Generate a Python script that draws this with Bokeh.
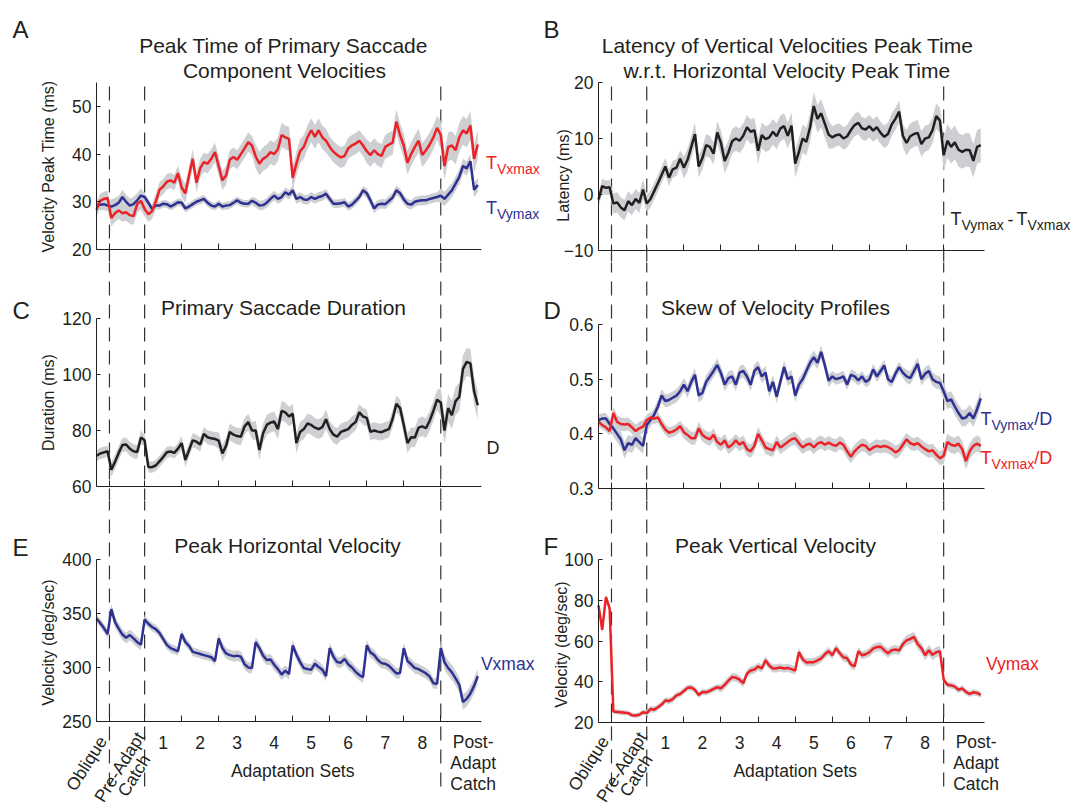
import numpy as np
from bokeh.plotting import figure
from bokeh.models import Range1d, LinearAxis, FixedTicker, Label
from bokeh.layouts import gridplot
from bokeh.embed import file_html
from bokeh.resources import INLINE

# ---------------- data ----------------
block_names = ["Oblique", "Pre-Adapt\nCatch", "1", "2", "3", "4", "5", "6", "7", "8", "Post-\nAdapt\nCatch"]
block_lengths = [35, 95, 100, 100, 100, 100, 100, 100, 100, 100, 110]
dashed_boundaries = [0, 1, 9]          # boundaries (after block i) drawn as dashed lines
trial_step = 10
n_samples = 104

A_red = [28.3, 30.2, 30.6, 30.8, 26.6, 27.6, 28.2, 27.6, 27.8, 27.2,
         27.0, 29.5, 30.2, 28.5, 27.4, 28.0, 30.0, 32.5, 33.2, 34.2,
         34.5, 34.0, 36.0, 33.0, 31.8, 35.5, 39.0, 34.0, 37.0, 38.3,
         38.0, 39.0, 40.4, 37.5, 34.5, 35.5, 38.8, 39.4, 38.8, 40.0,
         41.2, 42.5, 41.8, 39.5, 38.0, 39.0, 39.5, 40.4, 40.0, 41.0,
         44.0, 43.5, 43.2, 35.0, 38.0, 40.6, 41.5, 43.5, 45.0, 43.6,
         45.0, 43.5, 42.8, 41.5, 40.5, 39.8, 39.3, 39.6, 41.2, 41.8,
         42.2, 42.8, 41.8, 40.6, 39.8, 40.8, 40.0, 39.6, 41.5, 42.0,
         42.4, 46.8, 44.0, 41.8, 38.2, 40.0, 41.5, 42.8, 39.8, 40.8,
         42.0, 43.5, 45.5, 44.0, 37.5, 41.5, 41.8, 40.8, 43.5, 45.0,
         44.3, 46.0, 39.0, 42.0]
A_blue = [29.4, 29.4, 29.5, 29.2, 29.0, 29.3, 29.8, 31.0, 30.0, 29.2,
          29.5, 30.3, 31.3, 31.0, 29.8, 28.5, 29.2, 29.2, 29.6, 29.5,
          29.0, 29.4, 29.9, 29.8, 28.6, 29.0, 29.5, 30.0, 30.3, 30.6,
          29.8, 29.2, 29.0, 29.6, 29.0, 29.2, 29.3, 29.8, 30.3, 29.8,
          29.6, 29.6, 30.2, 29.8, 29.2, 29.3, 29.8, 30.6, 31.3, 30.6,
          31.0, 32.0, 31.5, 32.4, 30.6, 31.0, 30.5, 30.4, 31.0, 30.6,
          31.0, 31.2, 31.7, 30.6, 29.6, 29.6, 29.7, 29.9, 29.0, 29.4,
          30.2, 31.0, 32.4, 31.8, 30.3, 28.6, 29.4, 29.6, 29.5, 30.2,
          30.9, 32.4, 31.8, 30.5, 29.6, 29.4, 30.0, 30.2, 30.3, 30.3,
          30.6, 30.8, 31.0, 31.3, 30.6, 31.5, 32.4, 33.8, 35.2, 37.5,
          37.0, 38.5, 32.5, 33.5]
B_lat = [-0.9, 1.5, 1.2, 1.3, -1.6, -1.4, -2.3, -2.8, -1.2, -1.9,
         -0.8, -1.5, 0.9, -1.6, -0.8, 0.6, 2.0, 3.5, 5.0, 3.0,
         4.5, 4.8, 6.4, 4.8, 6.2, 8.5, 10.8, 5.0, 6.5, 8.8,
         8.5, 7.3, 11.1, 9.2, 6.0, 7.5, 9.5, 10.0, 9.6, 10.5,
         12.0, 11.2, 11.5, 7.8, 10.6, 9.9, 10.2, 11.2, 10.4, 11.8,
         12.2, 10.5, 12.3, 5.5, 7.6, 10.0, 9.4, 12.0, 15.8, 13.5,
         14.5, 12.6, 10.7, 10.2, 10.6, 10.7, 10.0, 10.4, 11.5, 12.4,
         12.8, 11.8, 11.6, 12.2, 11.4, 12.0, 11.0, 10.3, 10.8, 12.5,
         13.5, 14.8, 10.5, 9.2, 10.4, 10.8, 11.0, 9.0, 10.0, 10.2,
         11.5, 14.0, 13.2, 7.0, 9.6, 8.5, 9.3, 8.0, 7.6, 8.0,
         7.9, 6.0, 8.5, 8.8]
C_dur = [71.0, 71.8, 72.2, 72.6, 66.0, 68.8, 72.0, 74.8, 75.0, 73.5,
         72.6, 72.3, 77.5, 76.5, 67.0, 66.9, 67.5, 69.0, 70.5, 72.2,
         72.5, 72.0, 73.5, 75.5, 69.5, 73.0, 76.5, 76.0, 75.0, 78.8,
         77.6, 77.2, 77.0, 76.4, 71.8, 74.5, 79.5, 78.5, 78.0, 77.8,
         81.5, 83.0, 80.0, 80.0, 73.0, 79.0, 82.0, 82.8, 83.2, 80.5,
         87.0, 86.5, 85.0, 86.0, 75.5, 79.5, 80.5, 82.5, 82.0, 81.0,
         80.5, 81.2, 84.0, 80.5, 78.5, 77.8, 79.5, 80.0, 80.5, 82.0,
         83.0, 86.5, 85.0, 84.5, 79.5, 80.0, 79.6, 79.4, 80.0, 80.5,
         84.2, 89.5, 88.0, 82.0, 75.5, 77.6, 77.5, 81.0, 81.5, 80.8,
         83.5, 87.0, 91.0, 90.0, 80.0, 88.0, 85.5, 90.5, 92.0, 102.0,
         104.5, 104.0, 94.0, 89.0]
D_blue = [0.425, 0.428, 0.428, 0.418, 0.410, 0.400, 0.390, 0.370, 0.383, 0.380,
          0.392, 0.385, 0.378, 0.416, 0.425, 0.435, 0.450, 0.470, 0.460, 0.462,
          0.466, 0.470, 0.478, 0.490, 0.478, 0.495, 0.508, 0.470, 0.475, 0.495,
          0.505, 0.515, 0.526, 0.511, 0.490, 0.502, 0.505, 0.490, 0.512, 0.515,
          0.505, 0.490, 0.515, 0.522, 0.505, 0.512, 0.478, 0.495, 0.468, 0.495,
          0.522, 0.500, 0.505, 0.470, 0.490, 0.500, 0.515, 0.530, 0.540, 0.530,
          0.550, 0.525, 0.497, 0.505, 0.500, 0.502, 0.505, 0.490, 0.508, 0.505,
          0.498, 0.505, 0.495, 0.500, 0.518, 0.505, 0.515, 0.525, 0.500, 0.495,
          0.510, 0.522, 0.512, 0.505, 0.502, 0.515, 0.528, 0.500, 0.510, 0.515,
          0.500, 0.495, 0.493, 0.478, 0.460, 0.463, 0.450, 0.438, 0.428, 0.430,
          0.438, 0.428, 0.445, 0.465]
D_red = [0.422, 0.416, 0.412, 0.405, 0.438, 0.422, 0.418, 0.417, 0.418, 0.412,
         0.405, 0.410, 0.413, 0.425, 0.430, 0.428, 0.430, 0.418, 0.408, 0.402,
         0.404, 0.408, 0.414, 0.403, 0.398, 0.392, 0.392, 0.410, 0.398, 0.393,
         0.390, 0.398, 0.385, 0.380, 0.388, 0.375, 0.380, 0.388, 0.380, 0.385,
         0.372, 0.368, 0.378, 0.400, 0.388, 0.375, 0.372, 0.370, 0.385, 0.375,
         0.380, 0.385, 0.390, 0.392, 0.383, 0.375, 0.380, 0.382, 0.375, 0.382,
         0.385, 0.380, 0.384, 0.380, 0.378, 0.384, 0.380, 0.368, 0.358, 0.368,
         0.375, 0.380, 0.378, 0.370, 0.375, 0.378, 0.376, 0.378, 0.376, 0.372,
         0.366, 0.370, 0.380, 0.390, 0.383, 0.380, 0.383, 0.377, 0.372, 0.368,
         0.370, 0.362, 0.355, 0.360, 0.385, 0.380, 0.378, 0.382, 0.372, 0.350,
         0.368, 0.378, 0.382, 0.378]
E_vx = [345.4, 341.2, 336.5, 331.0, 354.0, 342.0, 336.0, 330.5, 327.5, 330.0,
        327.0, 323.5, 321.0, 344.5, 340.5, 337.5, 335.5, 332.0, 326.5, 321.0,
        318.0, 316.5, 315.0, 331.0, 323.5, 320.0, 314.5, 313.5, 312.5, 311.5,
        310.5, 309.5, 306.0, 327.0, 318.0, 313.0, 311.5, 310.5, 311.0, 310.0,
        303.0, 300.0, 299.5, 323.5, 318.0, 311.0, 307.0, 307.5, 302.5, 298.5,
        293.5, 297.0, 294.0, 320.5, 312.0, 305.0, 299.5, 298.5, 298.0, 303.5,
        300.5, 298.0, 292.0, 318.0, 310.0, 305.0, 304.5, 308.0, 303.0, 300.0,
        296.0, 293.0, 291.0, 320.5, 314.0, 311.5, 307.0, 304.0, 303.5, 301.5,
        298.0, 294.5, 295.0, 318.0, 306.0, 303.0, 299.5, 298.5, 296.5, 294.5,
        291.5, 285.5, 285.0, 318.0, 305.0, 299.5, 295.5, 290.0, 284.0, 268.0,
        271.0, 276.0, 283.0, 292.0]
F_vy = [77.5, 65.5, 81.5, 76.0, 25.4, 25.2, 25.0, 24.8, 24.6, 23.6,
        23.4, 23.8, 25.0, 24.6, 26.6, 26.3, 27.5, 28.8, 30.8, 30.5,
        31.5, 33.3, 34.0, 35.5, 37.0, 37.2, 36.0, 33.5, 35.0, 34.8,
        35.5, 36.5, 37.3, 36.8, 38.5, 40.5, 42.3, 42.0, 41.0, 39.3,
        44.0, 45.5, 46.0, 47.5, 46.5, 50.5, 48.0, 46.5, 46.6, 47.0,
        46.5, 46.8, 46.2, 45.5, 54.6, 51.0, 49.5, 49.6, 49.6, 50.5,
        51.5, 53.5, 55.0, 53.0, 56.5, 54.0, 52.0, 51.5, 48.5, 47.5,
        55.0, 53.0, 53.5, 54.5, 56.3, 57.0, 57.2, 55.5, 54.0, 55.5,
        55.8, 55.3, 58.5, 60.3, 61.0, 62.0, 58.5, 56.5, 53.0, 55.5,
        53.2, 54.5, 55.0, 41.0, 38.5, 38.2, 37.6, 36.0, 36.8, 35.0,
        34.0, 34.8, 34.5, 33.5]

# confidence band half-widths, one value per block
A_red_bw = [1.5, 1.8, 1.6, 2.0, 2.0, 2.5, 2.5, 2.2, 2.5, 2.5, 3.0]
A_blue_bw = [1.2, 1.5, 0.8, 0.8, 0.8, 1.0, 1.0, 0.9, 1.0, 1.0, 1.5]
B_bw = [1.3, 1.8, 1.5, 2.0, 2.2, 2.3, 2.5, 2.0, 2.0, 2.3, 3.0]
C_bw = [2.0, 2.5, 2.0, 2.5, 3.0, 3.5, 3.5, 3.0, 3.0, 3.5, 5.0]
D_blue_bw = [0.010, 0.015, 0.012, 0.012, 0.012, 0.012, 0.012, 0.010, 0.010, 0.012, 0.015]
D_red_bw = [0.008, 0.012, 0.010, 0.012, 0.012, 0.012, 0.012, 0.012, 0.012, 0.012, 0.015]
E_bw = [4, 5, 4, 4, 5, 5, 5, 5, 5, 5, 7]
F_bw = [2.0, 1.2, 1.5, 1.5, 2.0, 2.0, 2.0, 2.0, 2.2, 2.5, 1.5]

# ---------------- style ----------------
FONT = "Liberation Sans"
TXT = "#231f20"
RED = "#ec2227"
BLUE = "#2e3192"
BLACK = "#231f20"
GRAY = "#cdcfd2"
DASH = "#333333"

# page geometry (px); each figure's frame covers its whole canvas
CAN_X0 = [0, 542]
CAN_X1 = [542, 1072]
AXIS_X = [96, 598]       # y-axis position
AXIS_XEND = [481, 984]   # end of the x axis
CAN_Y0 = [0, 262, 500]
CAN_Y1 = [262, 500, 806]
DASH_TOP = [86, 258, 496]
DASH_BOT = [266, 504, 790]

TOTAL = int(np.sum(block_lengths))
lengths = np.array(block_lengths, dtype=float)
edges = np.cumsum(lengths)
starts = edges - lengths
centers = starts + lengths / 2.0
trials = np.arange(n_samples) * trial_step
blk = np.searchsorted(edges, trials, side="right")

panels = {
    "A": dict(col=0, row=0, lo=20, hi=55, lo_px=249, hi_px=82, ticks=[20, 30, 40, 50]),
    "B": dict(col=1, row=0, lo=-10, hi=20, lo_px=250, hi_px=82, ticks=[-10, 0, 10, 20]),
    "C": dict(col=0, row=1, lo=60, hi=120, lo_px=486, hi_px=318, ticks=[60, 80, 100, 120]),
    "D": dict(col=1, row=1, lo=0.3, hi=0.6, lo_px=488, hi_px=324, ticks=[0.3, 0.4, 0.5, 0.6]),
    "E": dict(col=0, row=2, lo=250, hi=400, lo_px=721, hi_px=559, ticks=[250, 300, 350, 400]),
    "F": dict(col=1, row=2, lo=20, hi=100, lo_px=722, hi_px=559, ticks=[20, 40, 60, 80, 100]),
}

series = {
    "A": [(A_blue, A_blue_bw, BLUE), (A_red, A_red_bw, RED)],
    "B": [(B_lat, B_bw, BLACK)],
    "C": [(C_dur, C_bw, BLACK)],
    "D": [(D_blue, D_blue_bw, BLUE), (D_red, D_red_bw, RED)],
    "E": [(E_vx, E_bw, BLUE)],
    "F": [(F_vy, F_bw, RED)],
}


def make_panel(spec):
    c, r = spec["col"], spec["row"]
    ppt = (AXIS_XEND[c] - AXIS_X[c]) / TOTAL
    k = (spec["lo_px"] - spec["hi_px"]) / (spec["hi"] - spec["lo"])
    x0 = (CAN_X0[c] - AXIS_X[c]) / ppt
    x1 = (CAN_X1[c] - AXIS_X[c]) / ppt
    y0 = spec["lo"] - (CAN_Y1[r] - spec["lo_px"]) / k
    y1 = spec["hi"] + (spec["hi_px"] - CAN_Y0[r]) / k
    p = figure(frame_width=CAN_X1[c] - CAN_X0[c], frame_height=CAN_Y1[r] - CAN_Y0[r],
               min_border=0, min_border_left=0, min_border_right=0,
               min_border_top=0, min_border_bottom=0,
               x_range=Range1d(x0, x1), y_range=Range1d(y0, y1),
               x_axis_location=None, y_axis_location=None, title=None,
               output_backend="svg", toolbar_location=None, tools="")
    p.outline_line_color = None
    p.grid.visible = False
    p.background_fill_color = "white"
    p.border_fill_color = "white"
    yax = LinearAxis(fixed_location=0, bounds=(spec["lo"], spec["hi"]),
                     ticker=FixedTicker(ticks=spec["ticks"], minor_ticks=[]),
                     axis_line_color=TXT, axis_line_width=1,
                     major_tick_in=4, major_tick_out=0, major_tick_line_color=TXT,
                     minor_tick_line_color=None,
                     major_label_text_font=FONT, major_label_text_font_size="17.5px",
                     major_label_text_color=TXT, major_label_standoff=5)
    p.add_layout(yax, "left")
    bticks = [float(e) for e in edges[:-1]]
    xax = LinearAxis(fixed_location=spec["lo"], bounds=(0, TOTAL),
                     ticker=FixedTicker(ticks=bticks, minor_ticks=[]),
                     axis_line_color=TXT, axis_line_width=1,
                     major_tick_in=6, major_tick_out=0, major_tick_line_color=TXT,
                     minor_tick_line_color=None,
                     major_label_overrides={t: "" for t in bticks},
                     major_label_text_font_size="0px")
    p.add_layout(xax, "below")
    return dict(fig=p, c=c, r=r, ppt=ppt, k=k, lo=spec["lo"], lo_px=spec["lo_px"])


def px_to_x(P, X):
    return (X - AXIS_X[P["c"]]) / P["ppt"]


def px_to_y(P, Y):
    return P["lo"] - (Y - P["lo_px"]) / P["k"]


def lab(P, X, Y, text, size, color=TXT, align="left", baseline="alphabetic", angle=0.0, xdata=None):
    x = xdata if xdata is not None else px_to_x(P, X)
    P["fig"].add_layout(Label(x=x, y=px_to_y(P, Y), text=text, text_font=FONT,
                              text_font_size=size, text_color=color, text_align=align,
                              text_baseline=baseline, angle=angle, angle_units="deg"))


figs = {name: make_panel(spec) for name, spec in panels.items()}

for name, P in figs.items():
    p = P["fig"]
    r = P["r"]
    bx = [float(edges[b]) for b in dashed_boundaries]
    p.segment(x0=bx, y0=[px_to_y(P, DASH_TOP[r])] * len(bx),
              x1=bx, y1=[px_to_y(P, DASH_BOT[r])] * len(bx),
              line_color=DASH, line_width=1.2, line_dash="14 9")
    for vals, bw, col in series[name]:
        y = np.array(vals, dtype=float)
        w = np.array(bw, dtype=float)[blk]
        p.varea(x=trials, y1=y - w, y2=y + w, fill_color=GRAY, fill_alpha=1.0)
    for vals, bw, col in series[name]:
        p.line(x=trials, y=np.array(vals, dtype=float), line_color=col, line_width=2.5)

# titles
titles = {
    "A": [("Peak Time of Primary Saccade", 283, 45), ("Component Velocities", 284, 70)],
    "B": [("Latency of Vertical Velocities Peak Time", 787, 45), ("w.r.t. Horizontal Velocity Peak Time", 786.5, 70)],
    "C": [("Primary Saccade Duration", 283, 307)],
    "D": [("Skew of Velocity Profiles", 775, 307)],
    "E": [("Peak Horizontal Velocity", 287, 545)],
    "F": [("Peak Vertical Velocity", 775, 545)],
}
for name, lines in titles.items():
    for text, X, Y in lines:
        lab(figs[name], X, Y, text, "21px", align="center")

letters = {"A": (12, 29), "B": (543, 29), "C": (12, 310), "D": (543, 310), "E": (12, 547), "F": (543, 546)}
for name, (X, Y) in letters.items():
    lab(figs[name], X, Y, name, "24px")

ylabels = {"A": ("Velocity Peak Time (ms)", 48, 166), "B": ("Latency (ms)", 563, 175),
           "C": ("Duration (ms)", 48, 402), "E": ("Velocity (deg/sec)", 48, 642),
           "F": ("Velocity (deg/sec)", 561, 644)}
for name, (text, X, Y) in ylabels.items():
    lab(figs[name], X, Y, text, "16px", align="center", baseline="middle", angle=90)

# series labels at the right of each panel
side = [
    ("A", 485.5, 162, "T", "18px", RED), ("A", 496.5, 168.5, "Vxmax", "14px", RED),
    ("A", 485.5, 207.5, "T", "18px", BLUE), ("A", 496.5, 213, "Vymax", "14px", BLUE),
    ("B", 950, 218.5, "T", "18px", TXT), ("B", 961, 224.5, "Vymax", "14px", TXT),
    ("B", 1007, 218.5, "-", "18px", TXT),
    ("B", 1016, 218.5, "T", "18px", TXT), ("B", 1027, 224.5, "Vxmax", "14px", TXT),
    ("C", 486, 447, "D", "18px", TXT),
    ("D", 980, 418, "T", "18px", BLUE), ("D", 991, 424.5, "Vymax", "14px", BLUE),
    ("D", 1033.8, 418, "/D", "18px", BLUE),
    ("D", 980, 457, "T", "18px", RED), ("D", 991, 463.5, "Vxmax", "14px", RED),
    ("D", 1033.8, 457, "/D", "18px", RED),
    ("E", 480.4, 663, "Vxmax", "17.5px", BLUE),
    ("F", 985.4, 663, "Vymax", "17.5px", RED),
]
for name, X, Y, text, size, col in side:
    lab(figs[name], X, Y, text, size, color=col)

# x tick labels for bottom panels
for name in ["E", "F"]:
    P = figs[name]
    ppx = 1.0 / P["ppt"]
    for i in range(2, 10):
        lab(P, None, 742, block_names[i], "17.5px", align="center", baseline="middle", xdata=float(centers[i]))
    lab(P, None, 770, "Adaptation Sets", "17.5px", align="center", baseline="middle",
        xdata=float((starts[2] + edges[9]) / 2))
    lab(P, None, 763, block_names[0], "17.5px", align="center", baseline="middle", angle=58,
        xdata=float(centers[0] - 16.5 * ppx))
    pre_lines = block_names[1].split("\n")
    for j, (dx, yy) in enumerate([(-7.5, 766.5), (7.0, 775.0)]):
        lab(P, None, yy, pre_lines[j], "17.5px", align="center", baseline="middle", angle=58,
            xdata=float(centers[1] + dx * ppx))
    post_lines = block_names[10].split("\n")
    for j, yy in enumerate([741.5, 762.5, 783.5]):
        lab(P, None, yy, post_lines[j], "17.5px", align="center", baseline="middle",
            xdata=float(centers[10] + 12 * ppx))

grid = gridplot([[figs["A"]["fig"], figs["B"]["fig"]],
                 [figs["C"]["fig"], figs["D"]["fig"]],
                 [figs["E"]["fig"], figs["F"]["fig"]]], toolbar_location=None)

open("out.html", "w").write(file_html(grid, INLINE))
